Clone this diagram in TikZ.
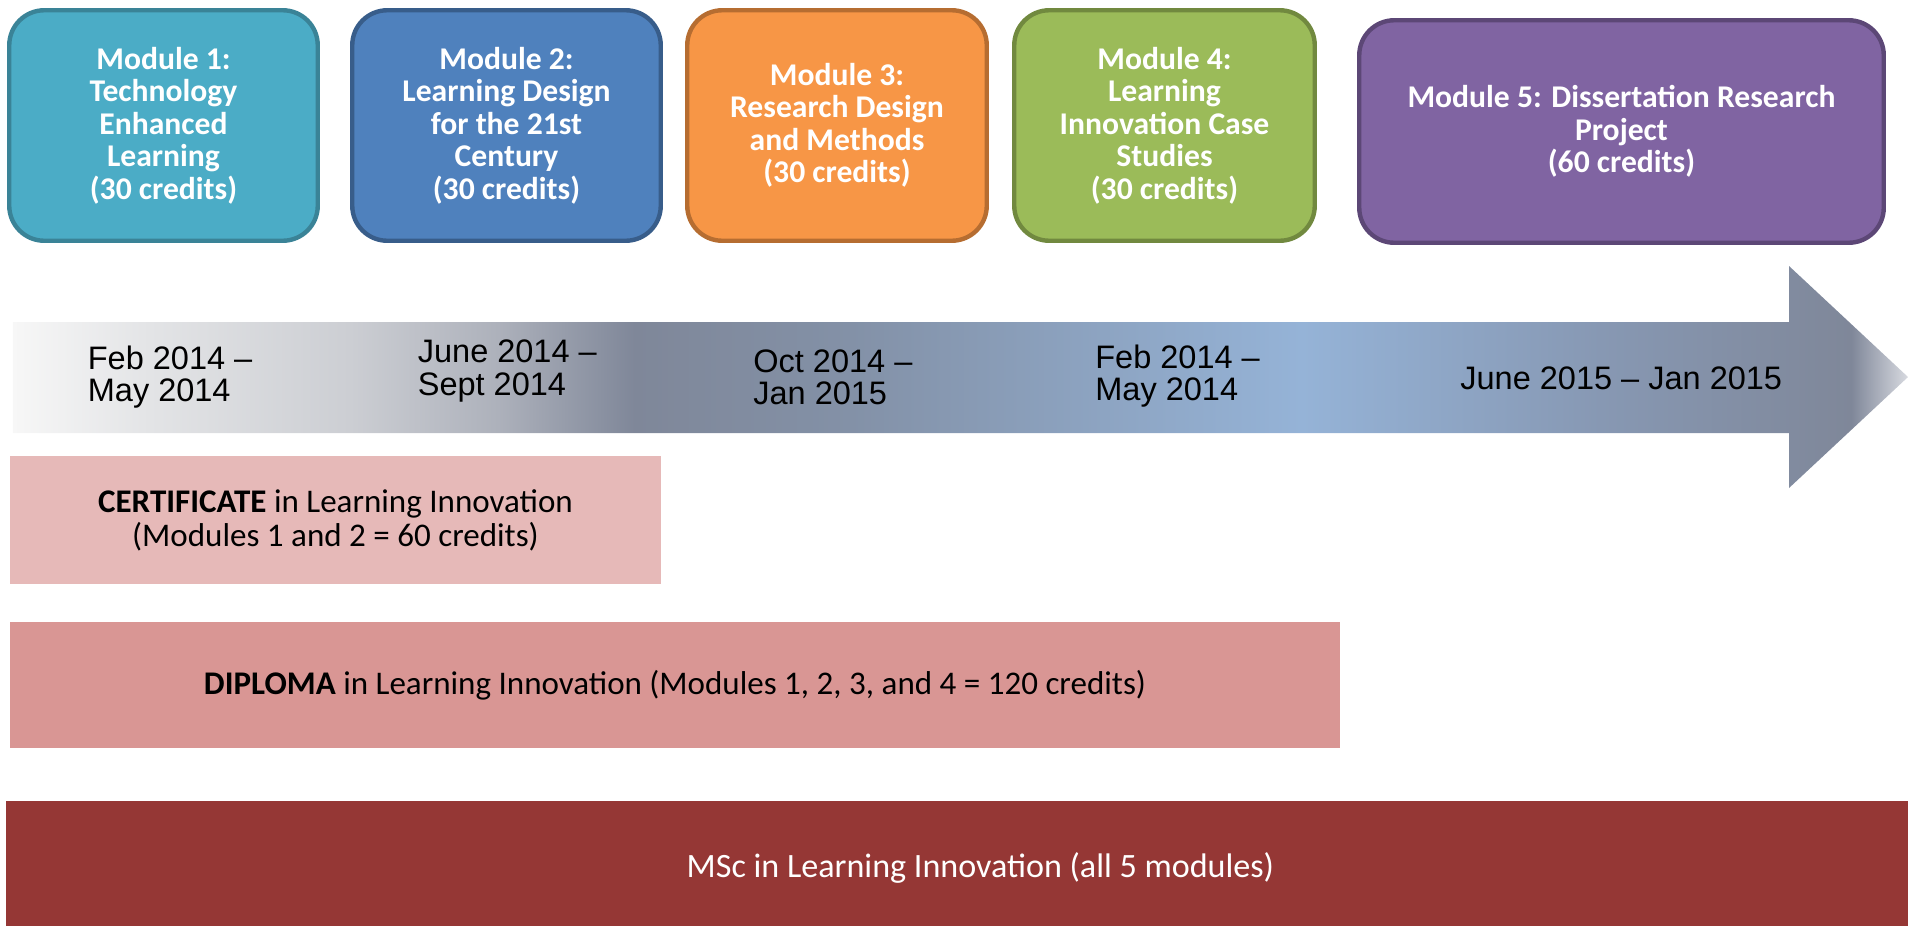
\documentclass[tikz,border=0pt]{standalone}
\usepackage{fontspec}
\newfontfamily\calibri{Carlito}
\newfontfamily\arial{Liberation Sans}
\usetikzlibrary{positioning}
\definecolor{modA}{HTML}{4BACC6}
\definecolor{modAline}{HTML}{3A8397}
\definecolor{modB}{HTML}{4F81BD}
\definecolor{modBline}{HTML}{385D8A}
\definecolor{modC}{HTML}{F79646}
\definecolor{modCline}{HTML}{B66D31}
\definecolor{modD}{HTML}{9BBB59}
\definecolor{modDline}{HTML}{71893F}
\definecolor{modE}{HTML}{8064A2}
\definecolor{modEline}{HTML}{5C4776}
\definecolor{certfill}{HTML}{E6B9B8}
\definecolor{diplfill}{HTML}{D99694}
\definecolor{mscfill}{HTML}{953735}
\definecolor{tlA}{HTML}{F7F7F7}
\definecolor{tlB}{HTML}{E3E4E6}
\definecolor{tlC}{HTML}{CCCED3}
\definecolor{tlD}{HTML}{ADB1BB}
\definecolor{tlE}{HTML}{7F8799}
\definecolor{tlF}{HTML}{8391A7}
\definecolor{tlG}{HTML}{95B3D7}
\definecolor{tlH}{HTML}{8798B3}
\definecolor{tlI}{HTML}{7F8799}
\definecolor{tlJ}{HTML}{D8DAE0}
\pgfdeclarehorizontalshading{timeline}{100bp}{color(0bp)=(tlA); color(25bp)=(tlA); color(28.6bp)=(tlB); color(33.9bp)=(tlC); color(37.8bp)=(tlD); color(41.4bp)=(tlE); color(47.1bp)=(tlF); color(59bp)=(tlG); color(66.9bp)=(tlH); color(73.5bp)=(tlI); color(75bp)=(tlJ); color(100bp)=(tlJ)}
\tikzset{
	module/.style={draw, line width=2.5pt, rounded corners=0.7cm, text=white, align=center, inner sep=0pt, font=\calibri\bfseries\fontsize{18}{18.5}\selectfont}, % the five module boxes
	datelabel/.style={anchor=west, align=left, inner sep=0pt, font=\arial\fontsize{18.5}{18.3}\selectfont}, % dates on the arrow
	award/.style={inner sep=0pt, align=center, font=\calibri\fontsize{18.8}{19.5}\selectfont}, % the award bars
}

\begin{document}
\begin{tikzpicture}
		\useasboundingbox (0,0) rectangle (38.16,-18.52);
		
		\node[module, fill=modA, draw=modAline, minimum width=6.17cm, minimum height=4.61cm] (m1) at (3.27,-2.51) {Module 1:\\Technology\\Enhanced\\Learning\\(30 credits)};
		\node[module, fill=modB, draw=modBline, minimum width=6.17cm, minimum height=4.61cm] (m2) at (10.13,-2.51) {Module 2:\\Learning Design\\for the 21st\\Century\\(30 credits)};
		\node[module, fill=modC, draw=modCline, minimum width=5.99cm, minimum height=4.61cm] (m3) at (16.74,-2.51) {Module 3:\\Research Design\\and Methods\\(30 credits)};
		\node[module, fill=modD, draw=modDline, minimum width=6.01cm, minimum height=4.61cm] (m4) at (23.29,-2.51) {Module 4:\\Learning\\Innovation Case\\Studies\\(30 credits)};
		\node[module, fill=modE, draw=modEline, minimum width=10.49cm, minimum height=4.45cm] (m5) at (32.43,-2.63) {Module 5: Dissertation Research\\Project\\(60 credits)};
		
		\shade[shading=timeline] (0.26,-6.44) -- (35.78,-6.44) -- (35.78,-5.32) -- (38.16,-7.54) -- (35.78,-9.76) -- (35.78,-8.66) -- (0.26,-8.66) -- cycle;
		\node[datelabel] (d1) at (1.75,-7.54) {Feb 2014 –\\May 2014};
		\node[datelabel] (d2) at (8.35,-7.42) {June 2014 –\\Sept 2014};
		\node[datelabel] (d3) at (15.06,-7.54) {Oct 2014 –\\Jan 2015};
		\node[datelabel] (d4) at (21.9,-7.52) {Feb 2014 –\\May 2014};
		\node[datelabel] (d5) at (29.2,-7.57) {June 2015 – Jan 2015};
		
		\node[award, fill=certfill, minimum width=13.02cm, minimum height=2.56cm] (cert) at (6.71,-10.4) {\textbf{CERTIFICATE} in Learning Innovation\\(Modules 1 and 2 = 60 credits)};
		\node[award, fill=diplfill, minimum width=26.6cm, minimum height=2.52cm] (dipl) at (13.5,-13.7) {\textbf{DIPLOMA} in Learning Innovation (Modules 1, 2, 3, and 4 = 120 credits)};
		\node[award, fill=mscfill, minimum width=38.04cm, minimum height=2.5cm] (msc) at (19.14,-17.27) {};
		\node[award, text=white, font=\calibri\fontsize{19.4}{20}\selectfont] (msctext) at ([xshift=0.47cm,yshift=-0.08cm]msc.center) {MSc in Learning Innovation (all 5 modules)};
\end{tikzpicture}
\end{document}
